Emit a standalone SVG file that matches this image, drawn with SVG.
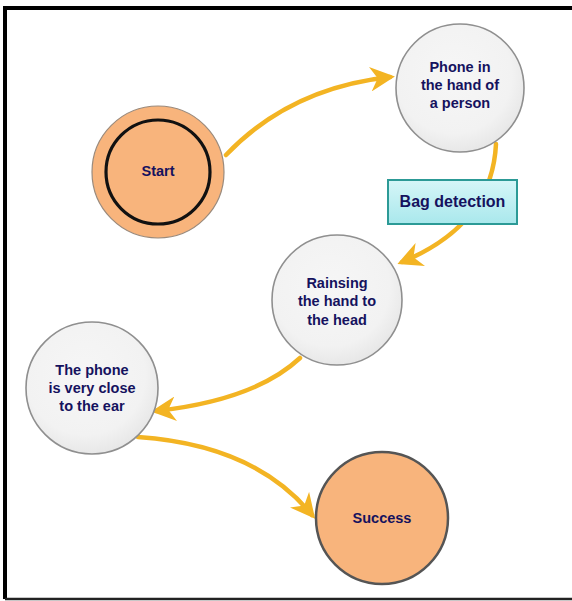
<svg xmlns="http://www.w3.org/2000/svg" width="572" height="601" viewBox="0 0 572 601">
<style>
.lbl{font-family:"Liberation Sans",Arial,sans-serif;font-weight:bold;font-size:14.5px;fill:#15125e;text-anchor:middle}
.grey{fill:url(#gg);stroke:#8f8f8f;stroke-width:1.6}
.orange{fill:#f8b47c}
.conn{fill:none;stroke:#f3b423;stroke-width:4.5;stroke-linecap:round;marker-end:url(#ah)}
</style>
<defs>
<radialGradient id="gg" cx="0.45" cy="0.4" r="0.65">
<stop offset="0" stop-color="#f6f6f6"/>
<stop offset="0.7" stop-color="#f2f2f2"/>
<stop offset="1" stop-color="#e4e4e4"/>
</radialGradient>
<linearGradient id="bg" x1="0" y1="0" x2="0" y2="1">
<stop offset="0" stop-color="#d6f6f8"/>
<stop offset="1" stop-color="#a9e8ec"/>
</linearGradient>
<marker id="ah" viewBox="0 0 10 10" refX="8" refY="5" markerWidth="5.5" markerHeight="5.5" markerUnits="strokeWidth" orient="auto">
<path d="M0,0 L10,5 L0,10 L3,5 Z" fill="#f3b423"/>
</marker>
</defs>
<rect x="0" y="0" width="572" height="601" fill="#ffffff"/>
<path d="M5,599 L5,8 L574,8" fill="none" stroke="#000" stroke-width="4"/>
<line x1="5" y1="599" x2="574" y2="599" stroke="#222" stroke-width="2.5"/>

<g id="connectors">
<path class="conn" d="M226,155 Q290,88 390,77"/>
<path class="conn" d="M496,144 Q492,225 402,262"/>
<path class="conn" d="M300,358 Q255,400 156,411"/>
<path class="conn" d="M138,437 Q255,445 312,515"/>
</g>

<g id="start">
<circle cx="158" cy="172" r="66" class="orange" stroke="#9a8a7c" stroke-width="1.2"/>
<circle cx="158" cy="172" r="52" fill="none" stroke="#111" stroke-width="3.2"/>
<text class="lbl" x="158" y="176">Start</text>
</g>

<g id="phone_in_hand">
<circle cx="460" cy="88" r="64" class="grey"/>
<text class="lbl" x="460" y="72">Phone in</text>
<text class="lbl" x="460" y="90">the hand of</text>
<text class="lbl" x="460" y="108">a person</text>
</g>

<g id="bag_detection">
<rect x="388" y="180" width="129" height="44" fill="url(#bg)" stroke="#2c9a96" stroke-width="2"/>
<text class="lbl" x="452.5" y="207" style="font-size:16px">Bag detection</text>
</g>

<g id="raising">
<circle cx="337" cy="300" r="65" class="grey"/>
<text class="lbl" x="337" y="288">Rainsing</text>
<text class="lbl" x="337" y="306">the hand to</text>
<text class="lbl" x="337" y="325">the head</text>
</g>

<g id="phone_ear">
<circle cx="92" cy="388" r="66" class="grey"/>
<text class="lbl" x="92" y="375">The phone</text>
<text class="lbl" x="92" y="393">is very close</text>
<text class="lbl" x="92" y="411">to the ear</text>
</g>

<g id="success">
<circle cx="382" cy="518" r="66" class="orange" stroke="#555" stroke-width="2.5"/>
<text class="lbl" x="382" y="523">Success</text>
</g>
</svg>
